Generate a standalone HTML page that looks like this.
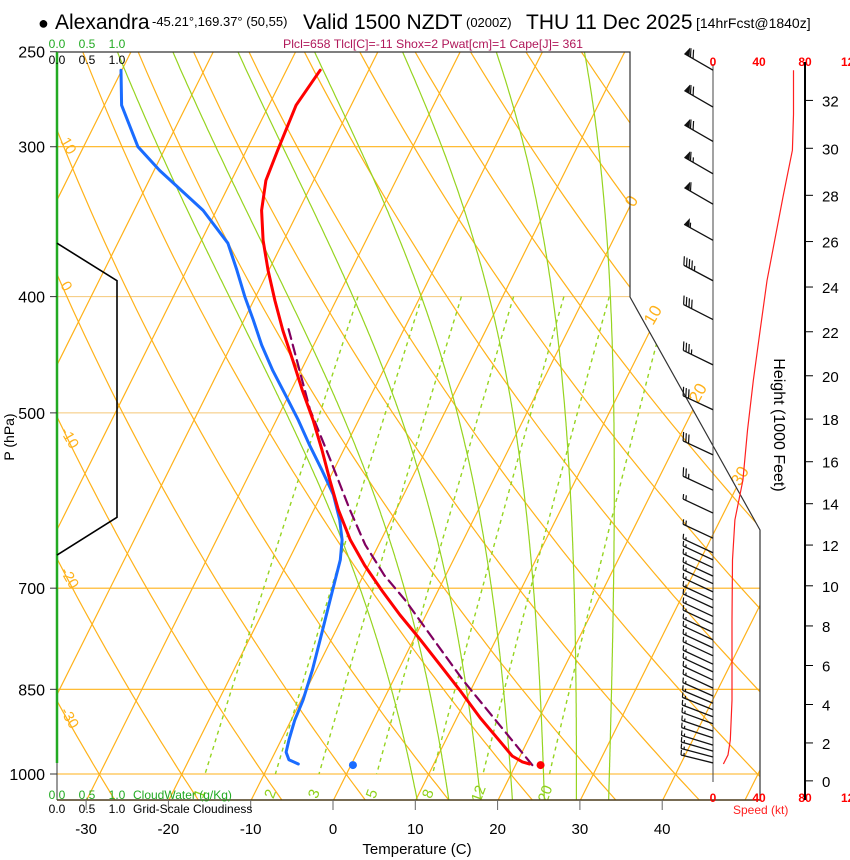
<!DOCTYPE html>
<html><head><meta charset="utf-8">
<style>
html,body{margin:0;padding:0;background:#fff;}
svg{display:block;font-family:"Liberation Sans",Arial,sans-serif;}
</style></head>
<body>
<svg id="chart" width="850" height="860" viewBox="0 0 850 860" xmlns="http://www.w3.org/2000/svg">
<defs><clipPath id="plotclip"><path d="M57,52 L630,52 L630,297 L760,530 L760,800 L57,800 Z"/></clipPath></defs>
<g id="grid" clip-path="url(#plotclip)"></g>
<g id="overlay"></g>
<text x="38" y="29" font-size="18">●</text>
<text x="55" y="29" font-size="21">Alexandra</text>
<text x="152" y="26" font-size="13">-45.21°,169.37° (50,55)</text>
<text x="303" y="29" font-size="21">Valid 1500 NZDT</text>
<text x="466" y="27" font-size="13">(0200Z)</text>
<text x="526" y="29" font-size="21">THU 11 Dec 2025</text>
<text x="696" y="28" font-size="14">[14hrFcst@1840z]</text>
<text x="283" y="48" font-size="12" fill="#b0185a" textLength="300" lengthAdjust="spacingAndGlyphs">Plcl=658 Tlcl[C]=-11 Shox=2 Pwat[cm]=1 Cape[J]= 361</text>
<g font-size="12">
<text x="57" y="48" fill="#22aa22" text-anchor="middle">0.0</text>
<text x="87" y="48" fill="#22aa22" text-anchor="middle">0.5</text>
<text x="117" y="48" fill="#22aa22" text-anchor="middle">1.0</text>
<text x="57" y="64" text-anchor="middle">0.0</text>
<text x="87" y="64" text-anchor="middle">0.5</text>
<text x="117" y="64" text-anchor="middle">1.0</text>
</g>
<g font-size="12">
<text x="57" y="799" fill="#22aa22" text-anchor="middle">0.0</text>
<text x="87" y="799" fill="#22aa22" text-anchor="middle">0.5</text>
<text x="117" y="799" fill="#22aa22" text-anchor="middle">1.0</text>
<text x="133" y="799" fill="#22aa22">CloudWater (g/Kg)</text>
<text x="57" y="813" text-anchor="middle">0.0</text>
<text x="87" y="813" text-anchor="middle">0.5</text>
<text x="117" y="813" text-anchor="middle">1.0</text>
<text x="133" y="813">Grid-Scale Cloudiness</text>
</g>
<text font-size="14" transform="translate(14,437) rotate(-90)" text-anchor="middle">P (hPa)</text>
<text x="417" y="854" font-size="15" text-anchor="middle">Temperature (C)</text>
<text font-size="16" transform="translate(774,425) rotate(90)" text-anchor="middle">Height (1000 Feet)</text>
<text x="733" y="814" font-size="12" fill="#ff2020">Speed (kt)</text>
</svg>
<script>
// ---------- data ----------
var pressureTicks = [250,300,400,500,700,850,1000];
var tempTicks = [-30,-20,-10,0,10,20,30,40];
var heightTicks = [0,2,4,6,8,10,12,14,16,18,20,22,24,26,28,30,32];
var speedTicks = [0,40,80,120];
var mixingRatios = [1,2,3,5,8,12,20];
var moistThetaW = [8,12,16,20,24,28,32];
var tempP = [259,277,302,320,339,359,380,403,427,452,479,507,537,569,602,638,670,703,737,773,811,851,898,940,966,977,981];
var tempC = [-45.9,-46.7,-46.2,-45.8,-44.5,-42.5,-40.1,-37.4,-34.6,-31.6,-28.6,-25.5,-22.6,-19.8,-17.0,-13.7,-10.4,-6.8,-3.1,0.9,4.8,8.7,12.9,16.8,19.1,20.7,21.7];
var dewP = [259,277,300,314,339,361,380,400,418,439,461,483,507,532,558,585,614,638,663,689,730,773,819,868,902,937,959,973,981];
var dewC = [-70.1,-67.9,-63.4,-59.3,-51.6,-46.6,-43.9,-41.3,-38.9,-36.3,-33.4,-30.4,-27.3,-24.4,-21.4,-18.5,-16.2,-14.7,-13.7,-13.1,-12.2,-11.3,-10.4,-9.7,-9.5,-9.0,-8.6,-7.8,-6.4];
var parcelP = [983,835,716,683,644,602,547,497,424];
var parcelC = [22.1,8.5,-3.4,-7.4,-11.6,-15.6,-21.0,-26.5,-34.2];
var surfaceTempC = 23.1, surfaceDewC = 0.3, surfaceP = 983;
var cloudP = [361,388,611,657];
var cloudFrac = [0,1,1,0];
var speedP = [259,282,302,330,366,388,427,470,517,569,614,663,744,868,937,964,981];
var speedKt = [70,70,69,61,52,47,41,35,30,26,19,17,16.5,16.5,15,13,9];
var barbP = [259,278,297,316,335,359,388,418,456,497,542,580,606,636,654,663,673,684,694,705,716,727,739,750,762,773,785,797,810,822,835,848,861,873,884,896,908,921,933,946,957,968,979];
var barbKt = [70,70,69,65,61,57,47,42,37,32,29,25,21,18,17,17,17,17,16,16,16,16,16,16,16,16,16,16,16,16,16,16,16,16,16,16,16,16,16,15,15,14,13];
var barbDir = [300,300,300,300,300,299,298,297,296,295,295,295,295,295,295,295,295,295,295,295,295,295,295,295,295,295,295,295,295,295,295,295,294,293,292,291,290,289,288,287,286,285,284];

var SVGNS = "http://www.w3.org/2000/svg";
function yP(p){ return 774 - 521*Math.log(1000/p); }
function xT(t,p){ return 333 + 8.23*t + 0.5*(800 - yP(p)); }
function xSpd(k){ return 713 + 1.15*k; }
function yHeight(kft){ var h=kft*304.8; var p=1013.25*Math.pow(1-2.25577e-5*h,5.2559); return yP(p); }
function mk(tag, attrs, parent){ var e=document.createElementNS(SVGNS,tag); for(var k in attrs) e.setAttribute(k,attrs[k]); parent.appendChild(e); return e; }
function pathFrom(pts){ return pts.map(function(q,i){return (i?"L":"M")+q[0].toFixed(1)+","+q[1].toFixed(1);}).join(" "); }
function es(tc){ return 6.112*Math.exp(17.67*tc/(tc+243.5)); }

var grid = document.getElementById("grid");
var ov = document.getElementById("overlay");
var ORANGE="#ffb21a", GREEN="#96d420";

pressureTicks.forEach(function(p){
  if(p===250) return;
  var l = mk("line",{x1:57,x2:760,y1:yP(p),y2:yP(p),stroke:(p===400||p===500)?"#f5c878":ORANGE,"stroke-width":1.1},grid);
  
  
});
for(var T=-130;T<=60;T+=10){
  var l = mk("line",{x1:xT(T,1049),y1:800,x2:xT(T,250),y2:yP(250),stroke:ORANGE,"stroke-width":1.2},grid);
  
  
}
for(var th=-40;th<=150;th+=10){
  var pts=[];
  for(var p=250;p<=1060;p+=10){ var t=(th+273.15)*Math.pow(p/1000,0.2857)-273.15; pts.push([xT(t,p),yP(p)]); }
  var d = mk("path",{d:pathFrom(pts),fill:"none",stroke:ORANGE,"stroke-width":1.2},grid);
  
  
}
function dTdp(T,p){ var tc=T-273.15; var e=es(tc); var rs=0.622*e/(p-e); var Rd=287,cp=1005,Lv=2.5e6;
  return (Rd*T+Lv*rs)/(p*(cp+Lv*Lv*rs*0.622/(Rd*T*T))); }
moistThetaW.forEach(function(tw){
  var T=tw+273.15, p;
  var down=[]; var T3=tw+273.15; down.push([xT(T3-273.15,1000),yP(1000)]);
  for(var pp=1000;pp<1060;pp+=2){ T3+=2*dTdp(T3,pp+1); down.push([xT(T3-273.15,pp+2),yP(pp+2)]); }
  down.reverse();
  var pts=down;
  for(p=1000;p>248;p-=2){ T-=2*dTdp(T,p-1); pts.push([xT(T-273.15,p-2),yP(p-2)]); }
  var m = mk("path",{d:pathFrom(pts),fill:"none",stroke:GREEN,"stroke-width":1.2},grid);
  
  
});
function tdFor(w,p){ var e=w*p/(622+w); var a=Math.log(e/6.112); return 243.5*a/(17.67-a); }
mixingRatios.forEach(function(w){
  var pts=[]; for(var p=400;p<=1000;p+=10) pts.push([xT(tdFor(w,p),p),yP(p)]);
  var m = mk("path",{d:pathFrom(pts),fill:"none",stroke:GREEN,"stroke-width":1.4,"stroke-dasharray":"4,4"},grid);
  
  
  var lx=xT(tdFor(w,1030),1030)+4, ly=yP(1030)+6;
  var t = mk("text",{x:0,y:0,"font-size":15,fill:"#8ed11a","text-anchor":"middle",transform:"translate("+lx.toFixed(1)+","+ly.toFixed(1)+") rotate(-70)"},grid);
  
  
  t.textContent=w;
});
[[10,147],[0,291],[-10,437],[-20,577],[-30,717]].forEach(function(a){
  var t = mk("text",{"font-size":15,fill:ORANGE,transform:"translate(60,"+(a[1]-6)+") rotate(60)"},ov);
  
  
  t.textContent=a[0];
});
[[0,634,208],[10,653,326],[20,698,404],[30,740,487]].forEach(function(a){
  var t = mk("text",{"font-size":17,fill:ORANGE,transform:"translate("+a[1]+","+a[2]+") rotate(-60)"},ov);
  
  
  t.textContent=a[0];
});
var b1 = mk("path",{d:"M57,52 L630,52 L630,297 L760,530 L760,800",fill:"none",stroke:"#333","stroke-width":1.2},ov);


var b2 = mk("line",{x1:57,x2:760,y1:800,y2:800,stroke:"#4a3a1a","stroke-width":1.5},ov);


var b3 = mk("line",{x1:57,x2:57,y1:52,y2:800,stroke:"#333","stroke-width":1},ov);


var cw = mk("line",{x1:57,x2:57,y1:52,y2:763,stroke:"#22aa22","stroke-width":2.5},ov);


var cpts=[];
for(var i=0;i<cloudP.length;i++) cpts.push([57+60*cloudFrac[i],yP(cloudP[i])]);
var cl = mk("path",{d:pathFrom(cpts),fill:"none",stroke:"#000","stroke-width":1.6},ov);


pressureTicks.forEach(function(p){
  var t = mk("text",{x:45,y:yP(p)+6,"font-size":16,"text-anchor":"end"},ov);
  
  
  t.textContent=p;
  var tk = mk("line",{x1:50,x2:57,y1:yP(p),y2:yP(p),stroke:"#333"},ov);
  
  
});
tempTicks.forEach(function(T){
  var x=333+8.23*T;
  var tk = mk("line",{x1:x,x2:x,y1:800,y2:810,stroke:"#666"},ov);
  
  
  var t = mk("text",{x:x,y:834,"font-size":15,"text-anchor":"middle"},ov);
  
  
  t.textContent=T;
});
var sa = mk("line",{x1:713,x2:713,y1:64,y2:782,stroke:"#444","stroke-width":1},ov);


speedTicks.forEach(function(k){
  [62,798].forEach(function(yy){
    var t = mk("text",{x:xSpd(k),y:yy+4,"font-size":12,"font-weight":"bold",fill:"#ff0000","text-anchor":"middle"},ov);
    
    
    t.textContent=k;
  });
});
var ha = mk("line",{x1:805,x2:805,y1:62,y2:800,stroke:"#000","stroke-width":2},ov);


heightTicks.forEach(function(h){
  var y=yHeight(h);
  var tk = mk("line",{x1:805,x2:813,y1:y,y2:y,stroke:"#000"},ov);
  
  
  var t = mk("text",{x:822,y:y+6,"font-size":15},ov);
  
  
  t.textContent=h;
});
var sp=[]; for(var i=0;i<speedP.length;i++) sp.push([xSpd(speedKt[i]),yP(speedP[i])]);
var spl = mk("path",{d:pathFrom(sp),fill:"none",stroke:"#ff2020","stroke-width":1.2},ov);


for(var i=0;i<barbP.length;i++){
  var g = mk("g",{},ov);
  
  
  var bx=713, by=yP(barbP[i]); var d=barbDir[i]*Math.PI/180;
  var ux=Math.sin(d), uy=-Math.cos(d); var L=33;
  var tx=bx+L*ux, ty=by+L*uy;
  mk("line",{x1:bx,y1:by,x2:tx,y2:ty,stroke:"#111","stroke-width":1.3},g);
  var s=Math.round(barbKt[i]/5)*5; var pos=0; var fl=i<12?9:5;
  while(s>=50){ var ax=tx-ux*pos, ay=ty-uy*pos; var bx2=tx-ux*(pos+6), by2=ty-uy*(pos+6);
    mk("polygon",{points:ax+","+ay+" "+bx2+","+by2+" "+(bx2+0.5)+","+(by2-fl),fill:"#111"},g); pos+=7; s-=50; }
  while(s>=10){ var ax=tx-ux*pos, ay=ty-uy*pos; mk("line",{x1:ax,y1:ay,x2:ax+0.5,y2:ay-fl,stroke:"#111","stroke-width":1.2},g); pos+=3; s-=10; }
  if(s>=5){ if(pos===0)pos=3; var ax=tx-ux*pos, ay=ty-uy*pos; mk("line",{x1:ax,y1:ay,x2:ax+0.3,y2:ay-fl*0.55,stroke:"#111","stroke-width":1.2},g); }
}
function prof(P,C,name,color,w,dash){
  var pts=[]; for(var i=0;i<P.length;i++) pts.push([xT(C[i],P[i]),yP(P[i])]);
  var at={d:pathFrom(pts),fill:"none",stroke:color,"stroke-width":w,"stroke-linejoin":"round","stroke-linecap":"round"};
  if(dash) at["stroke-dasharray"]=dash;
  var e = mk("path",at,ov);
  
  
}
prof(parcelP,parcelC,'parcel-path','#800060',2.2,"10,6");
prof(dewP,dewC,'dewpoint-profile','#1a6cff',3);
prof(tempP,tempC,'temperature-profile','#ff0000',3);
var sd = mk("circle",{cx:xT(surfaceTempC,surfaceP),cy:yP(surfaceP),r:4,fill:"#ff0000"},ov);


var sdd = mk("circle",{cx:xT(surfaceDewC,surfaceP),cy:yP(surfaceP),r:4,fill:"#1a6cff"},ov);


</script>
</body></html>
